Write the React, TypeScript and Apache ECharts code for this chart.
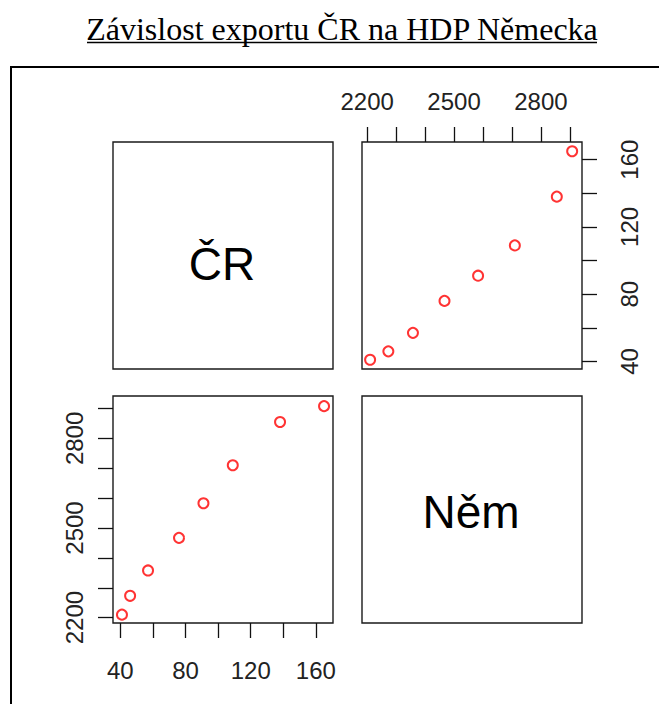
import React, { useEffect, useRef } from "react";
import * as echarts from "echarts";

const titleText = "Závislost exportu ČR na HDP Německa";
const varNames = ["ČR", "Něm"];
const cr = [41, 46, 57, 76, 91, 109, 138, 165];
const nem = [2210, 2273, 2358, 2467, 2583, 2710, 2855, 2908];
const crTicks = [40, 60, 80, 100, 120, 140, 160];
const crLabels = [40, 80, 120, 160];
const nemTicks = [2200, 2300, 2400, 2500, 2600, 2700, 2800, 2900];
const nemLabels = [2200, 2500, 2800];

const AX = "Liberation Sans, Arial, sans-serif";

export default function App() {
  const ref = useRef<HTMLDivElement>(null);
  useEffect(() => {
    const chart = echarts.init(ref.current!, null, { renderer: "svg" });
    const colX = [113, 362];
    const rowY = [142, 396];
    const W = 220;
    const H = 227;
    const grids = [
      { left: colX[0], top: rowY[0], width: W, height: H },
      { left: colX[1], top: rowY[0], width: W, height: H },
      { left: colX[0], top: rowY[1], width: W, height: H },
      { left: colX[1], top: rowY[1], width: W, height: H },
    ].map((g) => ({ ...g, show: true, borderColor: "#1a1a1a", borderWidth: 1.4, backgroundColor: "transparent" }));

    const crRange = { min: 35.5, max: 170.5 };
    const nemRange = { min: 2182, max: 2942 };

    const hidden = (gi: number) => ({ gridIndex: gi, type: "value", show: false, min: 0, max: 1 });
    const tickStyle = { show: true, length: 15, lineStyle: { color: "#111", width: 1.3 } };
    const lbl = { color: "#222", fontFamily: AX, fontSize: 24, formatter: (v: number) => String(v) };

    const option: any = {
      animation: false,
      backgroundColor: "#fff",
      grid: grids,
      xAxis: [
        hidden(0),
        {
          gridIndex: 1, type: "value", position: "top", ...nemRange,
          axisLine: { show: false }, splitLine: { show: false },
          axisTick: { ...tickStyle, customValues: nemTicks },
          axisLabel: { ...lbl, margin: 29, customValues: nemLabels },
        },
        {
          gridIndex: 2, type: "value", position: "bottom", ...crRange,
          axisLine: { show: false }, splitLine: { show: false },
          axisTick: { ...tickStyle, customValues: crTicks },
          axisLabel: { ...lbl, margin: 35, customValues: crLabels },
        },
        hidden(3),
      ],
      yAxis: [
        hidden(0),
        {
          gridIndex: 1, type: "value", position: "right", ...crRange,
          axisLine: { show: false }, splitLine: { show: false },
          axisTick: { ...tickStyle, customValues: crTicks },
          axisLabel: { ...lbl, margin: 35, rotate: 90, customValues: crLabels },
        },
        {
          gridIndex: 2, type: "value", position: "left", ...nemRange,
          axisLine: { show: false }, splitLine: { show: false },
          axisTick: { ...tickStyle, customValues: nemTicks },
          axisLabel: { ...lbl, margin: 27, rotate: 90, customValues: nemLabels },
        },
        hidden(3),
      ],
      series: [
        {
          type: "scatter", xAxisIndex: 1, yAxisIndex: 1,
          symbol: "emptyCircle", symbolSize: 10,
          itemStyle: { color: "#ff0000", borderColor: "#ff0000", borderWidth: 1.6 },
          data: nem.map((n, i) => [n, cr[i]]),
        },
        {
          type: "scatter", xAxisIndex: 2, yAxisIndex: 2,
          symbol: "emptyCircle", symbolSize: 10,
          itemStyle: { color: "#ff0000", borderColor: "#ff0000", borderWidth: 1.6 },
          data: cr.map((c, i) => [c, nem[i]]),
        },
      ],
      graphic: [
        {
          type: "text", x: 342, y: 29,
          style: { text: titleText, fill: "#000", font: "32px 'Liberation Serif', 'Times New Roman', serif", textAlign: "center", textVerticalAlign: "middle" },
        },
        { type: "line", shape: { x1: 87, y1: 42.5, x2: 597, y2: 42.5 }, style: { stroke: "#000", lineWidth: 1.5 } },
        { type: "line", shape: { x1: 10, y1: 67, x2: 659, y2: 67 }, style: { stroke: "#000", lineWidth: 2 } },
        { type: "line", shape: { x1: 11, y1: 66, x2: 11, y2: 704 }, style: { stroke: "#000", lineWidth: 2 } },
        {
          type: "text", x: 222, y: 264,
          style: { text: varNames[0], fill: "#000", font: `46px ${AX}`, textAlign: "center", textVerticalAlign: "middle" },
        },
        {
          type: "text", x: 471, y: 512,
          style: { text: varNames[1], fill: "#000", font: `46px ${AX}`, textAlign: "center", textVerticalAlign: "middle" },
        },
      ],
    };
    chart.setOption(option);
    return () => chart.dispose();
  }, []);
  return (
    <div
      ref={ref}
      style={{ position: "fixed", left: 0, top: 0, width: 659, height: 704, background: "#fff" }}
    />
  );
}
